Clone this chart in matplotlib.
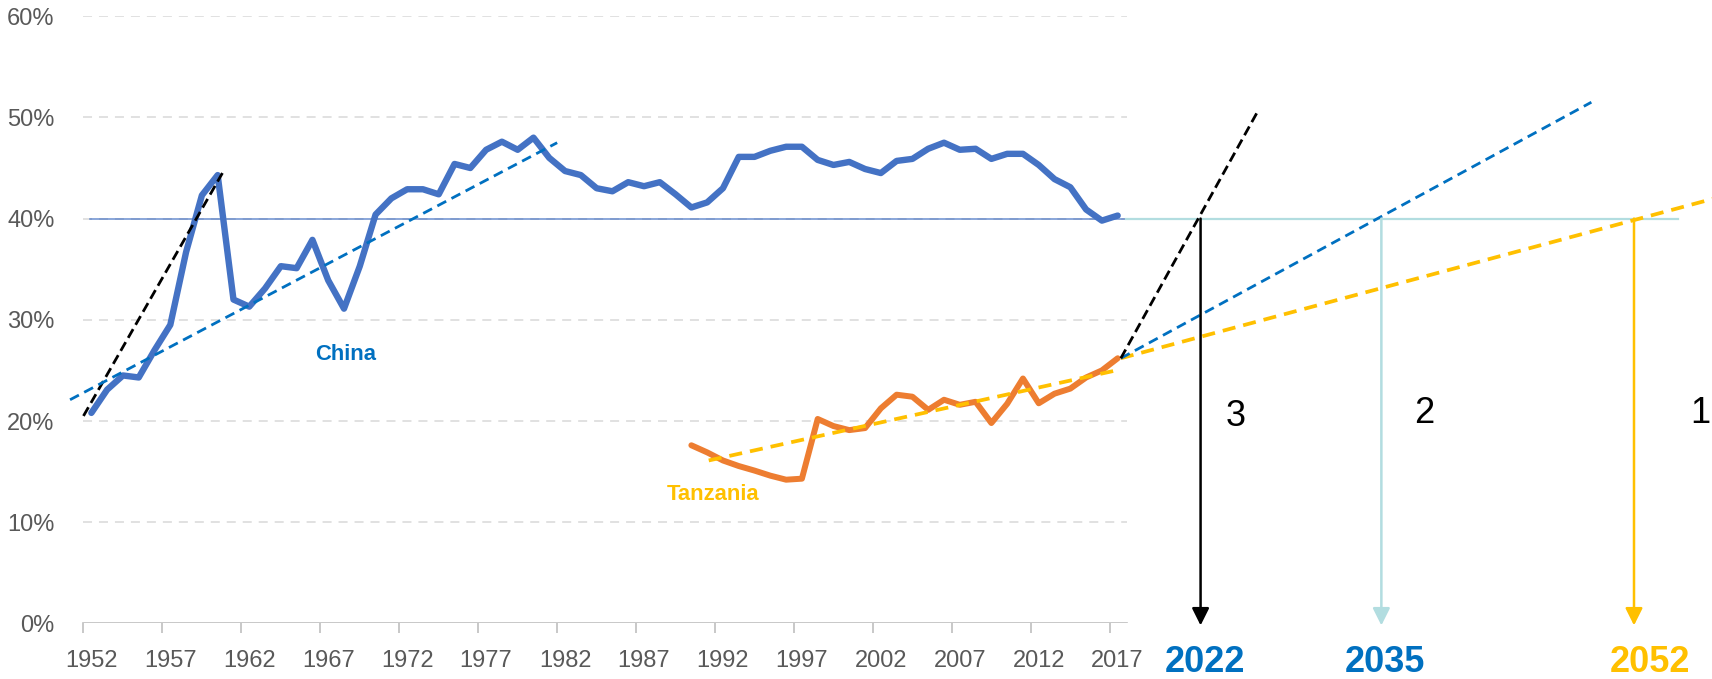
import matplotlib
matplotlib.use("Agg")
import matplotlib.pyplot as plt

plt.rcParams['font.family'] = ['Liberation Sans', 'DejaVu Sans']
plt.rcParams['lines.scale_dashes'] = False

# share of industry (%) by year
china_years = list(range(1952, 2018))
china_vals = [20.8, 23.1, 24.5, 24.3, 27.0, 29.5, 36.7, 42.3, 44.3, 32.0,
              31.3, 33.1, 35.3, 35.1, 37.9, 33.9, 31.1, 35.3, 40.4, 42.0,
              42.9, 42.9, 42.4, 45.4, 45.0, 46.8, 47.6, 46.8, 48.0, 46.0,
              44.7, 44.3, 43.0, 42.7, 43.6, 43.2, 43.6, 42.4, 41.1, 41.6,
              43.0, 46.1, 46.1, 46.7, 47.1, 47.1, 45.8, 45.3, 45.6, 44.9,
              44.5, 45.7, 45.9, 46.9, 47.5, 46.8, 46.9, 45.9, 46.4, 46.4,
              45.3, 43.9, 43.1, 40.9, 39.8, 40.3]
tz_years = list(range(1990, 2018))
tz_vals = [17.6, 16.9, 16.1, 15.55, 15.1, 14.6, 14.2, 14.3, 20.2, 19.5,
           19.1, 19.3, 21.25, 22.6, 22.4, 21.1, 22.1, 21.6, 21.9, 19.8,
           21.7, 24.2, 21.75, 22.7, 23.2, 24.3, 25.0, 26.2]

# trend lines (x, y end points)
china_fast_x, china_fast_y = [1951.5, 1960.3], [20.5, 44.5]
china_trend_x, china_trend_y = [1950.65, 1981.5], [22.1, 47.5]
tz_trend_x, tz_trend_y = [1991.1, 2016.9], [16.1, 25.0]

# projections from 2017
proj_start = (2017.2, 26.2)
proj_fast_end = (2025.8, 50.4)
proj_mid_end = (2047.0, 51.5)
proj_slow_end = (2056.0, 42.5)

target = 40
target_left = [1951.9, 2017.5]
target_right = [2017.5, 2052.5]

arrow_x = [2022.25, 2033.7, 2049.7]
arrow_colors = ['#000000', '#B2DDE0', '#FFC000']
step_labels = ['3', '2', '1']
step_pos = [(2024.5, 20.4), (2036.4, 20.7), (2053.9, 20.7)]
year_labels = ['2022', '2035', '2052']
year_pos = [2022.5, 2033.9, 2050.7]
year_colors = ['#0070C0', '#0070C0', '#FFC000']

tick_years = list(range(1952, 2018, 5))

fig = plt.figure(figsize=(17.12, 6.79), dpi=100)
ax = fig.add_axes([62 / 1712, 55.6 / 679, 1 - 62 / 1712, (623.4 - 16.2) / 679])
ax.set_xlim(1950.14, 2054.64)
ax.set_ylim(0, 60)
for s in ax.spines.values():
    s.set_visible(False)

# gridlines and x axis line
ax.hlines(range(10, 61, 10), 1951.5, 2017.6, colors='#D9D9D9', lw=1.1,
          linestyles=(0, (6.5, 5)), zorder=1)
ax.plot([1951.5, 2017.6], [0, 0], color='#BFBFBF', lw=1.2, zorder=1)

# y ticks
ax.set_yticks(range(0, 61, 10))
ax.set_yticklabels([f'{v}%' for v in range(0, 61, 10)])
ax.tick_params(axis='y', length=0, pad=5.3, labelsize=17, labelcolor='#595959')

# x ticks: marks between categories, labels on categories
ax.set_xticks([y - 0.5 for y in tick_years])
ax.set_xticklabels([])
ax.set_xticks(tick_years, minor=True)
ax.set_xticklabels([str(y) for y in tick_years], minor=True)
ax.tick_params(axis='x', which='major', length=7, width=1.2, color='#BFBFBF')
ax.tick_params(axis='x', which='minor', length=0, pad=19, labelsize=17,
               labelcolor='#595959')

# target line
ax.plot(target_left, [target, target], color='#4472C4', lw=1.1, alpha=0.8, zorder=2)
ax.plot(target_right, [target, target], color='#B2DDE0', lw=1.6, zorder=2)

# data
ax.plot(china_years, china_vals, color='#4472C4', lw=4.6, zorder=3,
        solid_joinstyle='round', solid_capstyle='round')
ax.plot(tz_years, tz_vals, color='#ED7D31', lw=4.3, zorder=3,
        solid_joinstyle='round', solid_capstyle='round')

# trends
ax.plot(china_fast_x, china_fast_y, color='black', lw=2, ls=(0, (7.2, 3.6)), zorder=4)
ax.plot(china_trend_x, china_trend_y, color='#0070C0', lw=2, ls=(0, (7.2, 4.3)), zorder=4)
ax.plot(tz_trend_x, tz_trend_y, color='#FFC000', lw=2.7, ls=(0, (9.4, 5.8)), zorder=4)

ax.plot([proj_start[0], proj_slow_end[0]], [proj_start[1], proj_slow_end[1]],
        color='#FFC000', lw=2.7, ls=(0, (9.4, 5.8)), zorder=4)
ax.plot([proj_start[0], proj_mid_end[0]], [proj_start[1], proj_mid_end[1]],
        color='#0070C0', lw=2, ls=(0, (7.2, 4.3)), zorder=4)
ax.plot([proj_start[0], proj_fast_end[0]], [proj_start[1], proj_fast_end[1]],
        color='black', lw=2, ls=(0, (7.2, 3.6)), zorder=4)

# arrows down to the year
for x, c in zip(arrow_x, arrow_colors):
    ax.annotate('', xy=(x, -0.2), xytext=(x, target), annotation_clip=False,
                arrowprops=dict(arrowstyle='-|>', color=c, lw=1.8,
                                mutation_scale=26, shrinkA=0, shrinkB=0),
                zorder=5)

for lab, (x, y) in zip(step_labels, step_pos):
    ax.text(x, y, lab, fontsize=26, color='black', ha='center', va='center')

for lab, x, c in zip(year_labels, year_pos, year_colors):
    ax.text(x, -3.9, lab, fontsize=26, fontweight='bold', color=c,
            ha='center', va='center', clip_on=False)

ax.text(1968.1, 26.6, 'China', fontsize=15.8, fontweight='bold', color='#0070C0',
        ha='center', va='center')
ax.text(1991.35, 12.7, 'Tanzania', fontsize=15.8, fontweight='bold', color='#FFC000',
        ha='center', va='center')

fig.savefig('out.png', dpi=100)
